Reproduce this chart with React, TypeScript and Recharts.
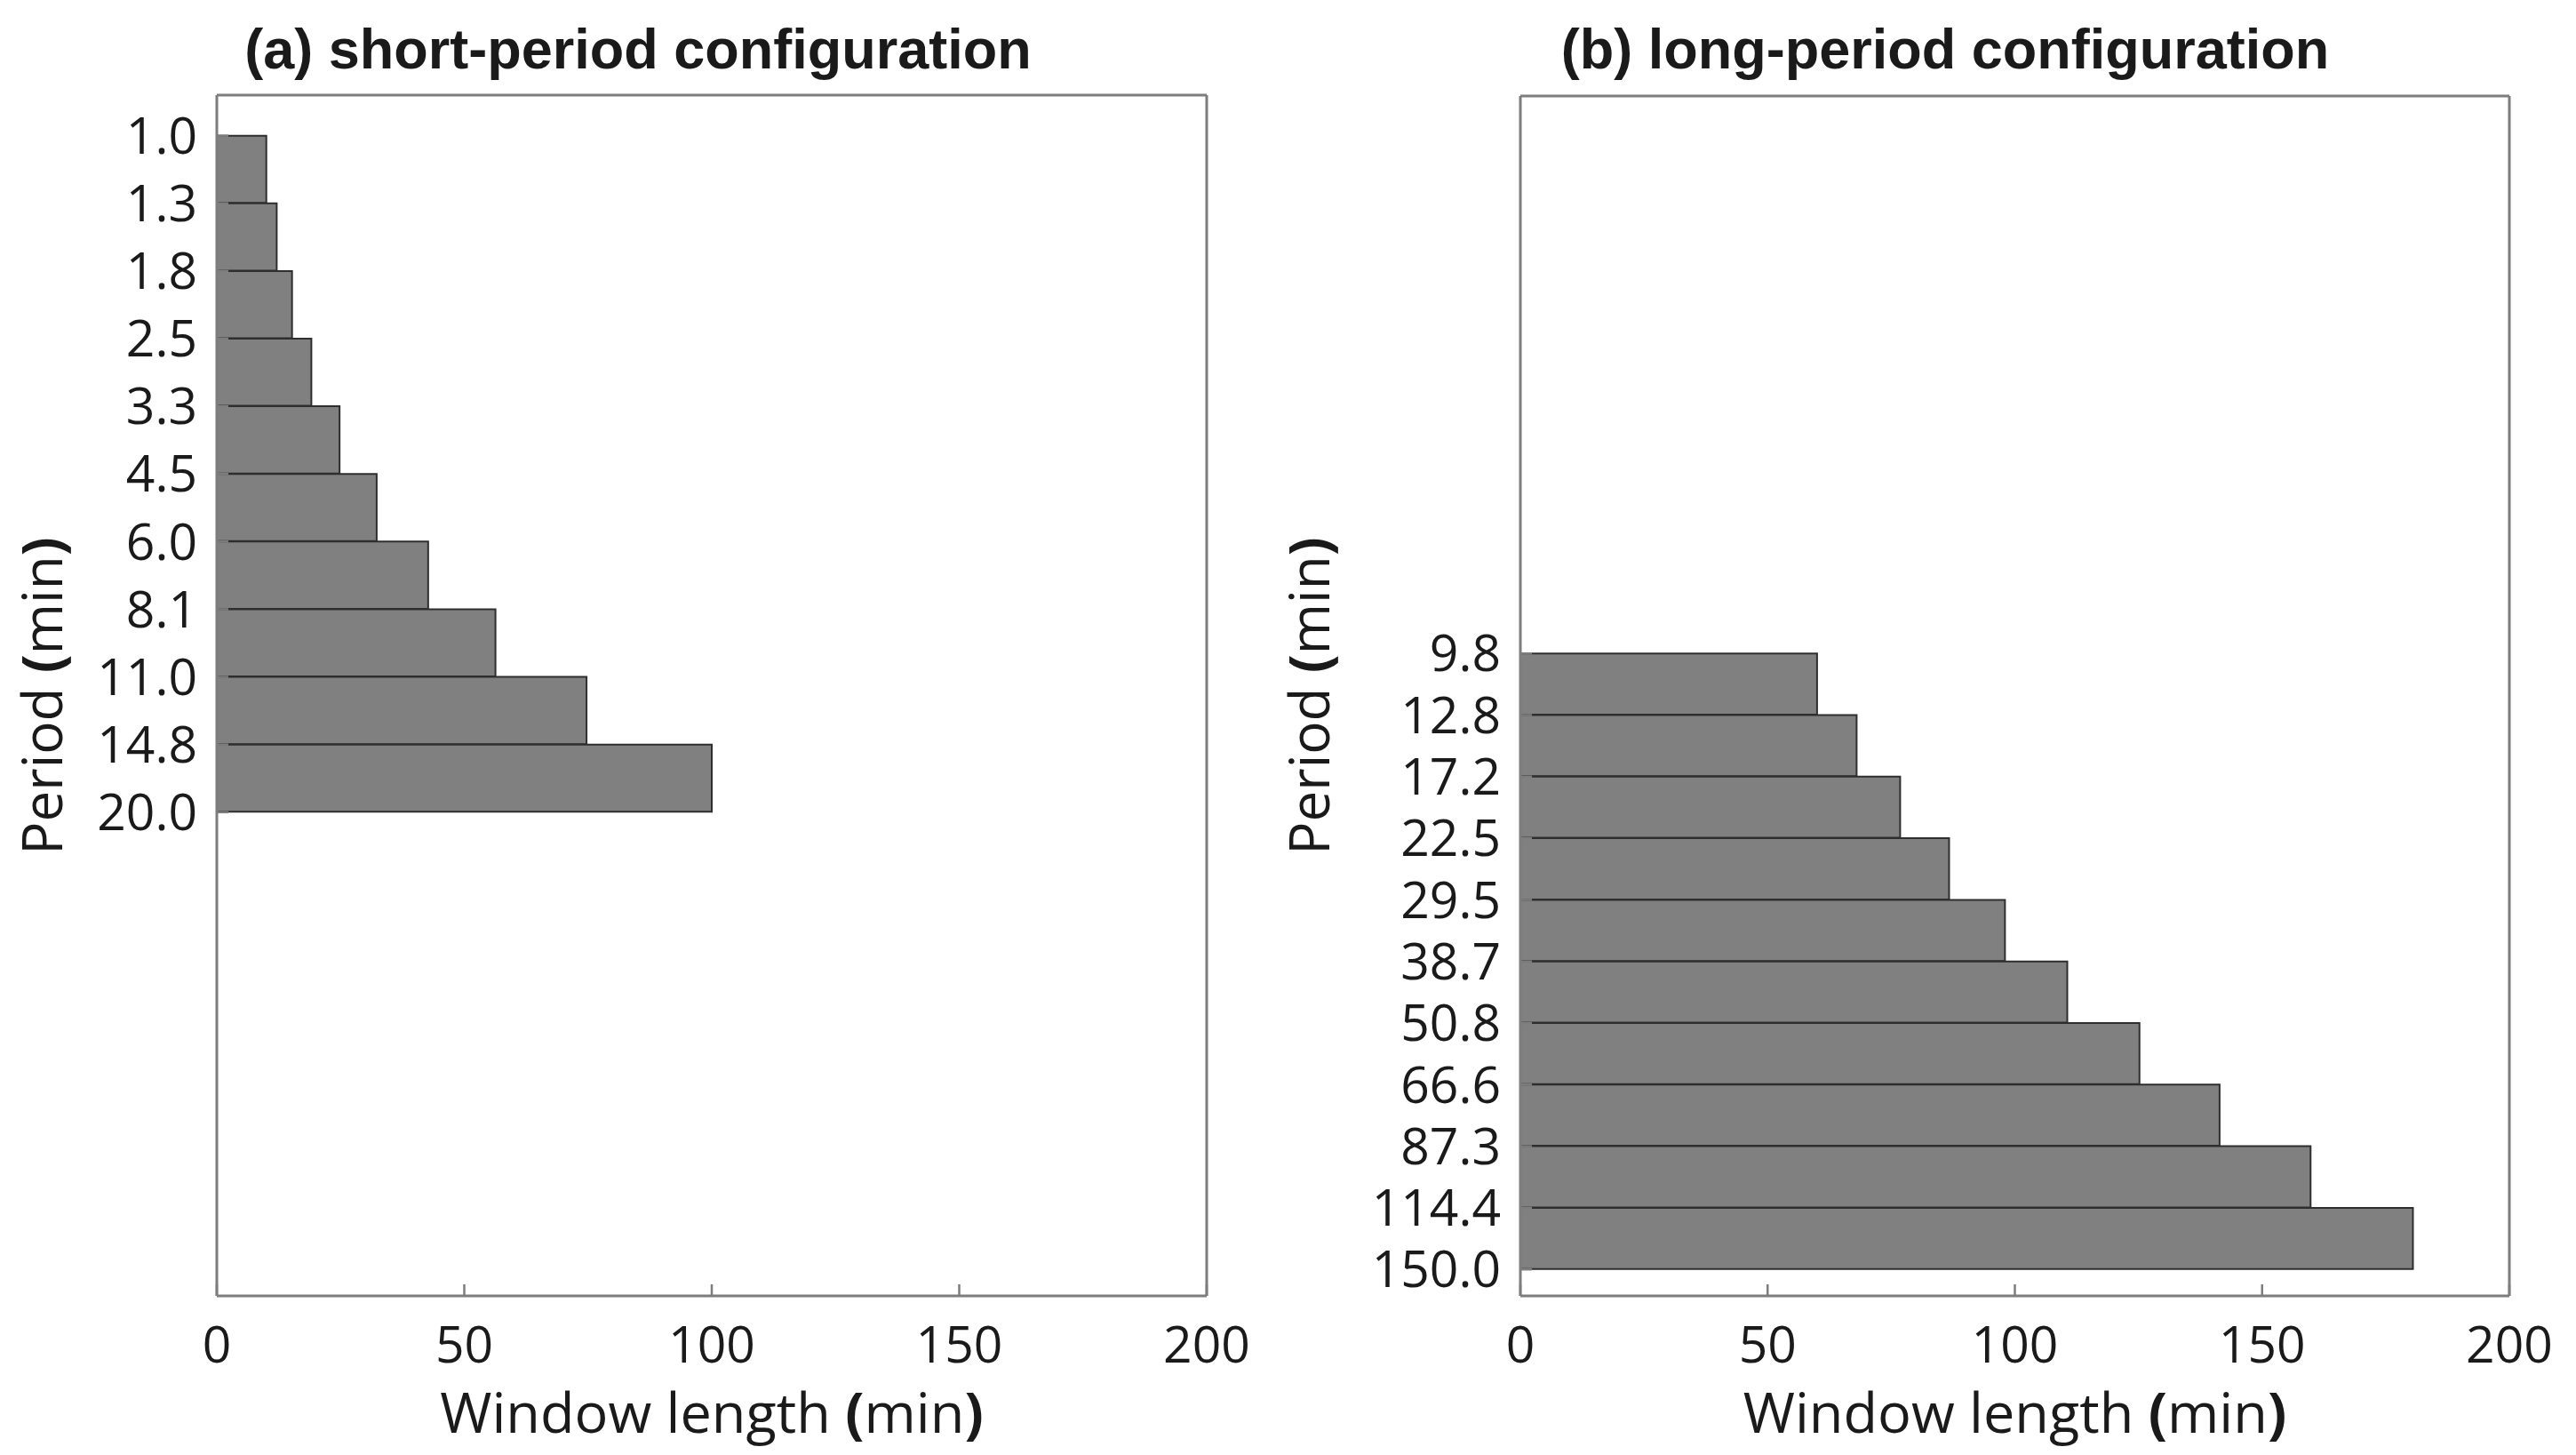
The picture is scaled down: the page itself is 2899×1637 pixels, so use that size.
import React from "react";
import { BarChart, Bar, XAxis, YAxis } from "recharts";

const W = 2899;
const H = 1637;

// (a) short-period configuration: band edges (min) and window length per band
const periodsShort = ["1.0", "1.3", "1.8", "2.5", "3.3", "4.5", "6.0", "8.1", "11.0", "14.8", "20.0"];
const windowShort = [10, 12.1, 15.2, 19.1, 24.8, 32.3, 42.7, 56.3, 74.7, 100];

// (b) long-period configuration
const periodsLong = ["9.8", "12.8", "17.2", "22.5", "29.5", "38.7", "50.8", "66.6", "87.3", "114.4", "150.0"];
const windowLong = [60, 68, 76.8, 86.7, 98, 110.6, 125.2, 141.4, 159.8, 180.5];

const xTicks = [0, 50, 100, 150, 200];

const frame = "#7d7d7d";
const ink = "#1a1a1a";
const font = "'Open Sans', 'DejaVu Sans', sans-serif";

type Box = { left: number; right: number; top: number; bottom: number };

type PanelProps = {
  title: string;
  periods: string[];
  windows: number[];
  yDomain: [number, number];
  box: Box;
  titleX: number;
  yLabelX: number;
};

function Panel({ title, periods, windows, yDomain, box, titleX, yLabelX }: PanelProps) {
  const data = windows.map((w, i) => ({ band: i + 0.5, window: w }));
  const yTicks = periods.map((_, i) => i);
  const plotH = box.bottom - box.top;
  const barSize = plotH / (yDomain[1] - yDomain[0]) - 0.5;
  const yAxisW = 240;
  const xAxisH = 60;
  const cx = (box.left + box.right) / 2;
  const cy = (box.top + box.bottom) / 2;

  const axisLine = { stroke: frame, strokeWidth: 3 };
  const tickLine = { stroke: frame, strokeWidth: 2.5 };
  const tickText = { fontSize: 57, fill: ink, fontFamily: font };

  return (
    <>
      <div style={{ position: "absolute", left: 0, top: 0 }}>
        <BarChart
          width={W}
          height={H}
          layout="vertical"
          data={data}
          margin={{
            top: box.top - 1,
            left: box.left - yAxisW,
            right: W - box.right - 1,
            bottom: H - box.bottom - xAxisH,
          }}
        >
          <XAxis
            xAxisId="bottom"
            type="number"
            domain={[0, 200]}
            ticks={xTicks}
            allowDataOverflow
            orientation="bottom"
            height={xAxisH}
            axisLine={axisLine}
            tickLine={tickLine}
            tickSize={-13}
            tickMargin={48}
            interval={0}
            tick={tickText}
          />
          <XAxis
            xAxisId="top"
            type="number"
            domain={[0, 200]}
            ticks={xTicks}
            allowDataOverflow
            orientation="top"
            height={1}
            axisLine={axisLine}
            tickLine={tickLine}
            tickSize={-13}
            interval={0}
            tick={false}
          />
          <YAxis
            yAxisId="left"
            type="number"
            dataKey="band"
            domain={yDomain}
            ticks={yTicks}
            allowDataOverflow
            width={yAxisW}
            axisLine={axisLine}
            tickLine={tickLine}
            tickSize={-13}
            tickMargin={35}
            interval={0}
            tickFormatter={(v: number) => periods[v] ?? ""}
            tick={tickText}
          />
          <YAxis
            yAxisId="right"
            type="number"
            orientation="right"
            domain={yDomain}
            ticks={yTicks}
            allowDataOverflow
            width={1}
            axisLine={axisLine}
            tickLine={tickLine}
            tickSize={-13}
            interval={0}
            tick={false}
          />
          <Bar
            xAxisId="bottom"
            yAxisId="left"
            dataKey="window"
            fill="#808080"
            stroke="#2e2e2e"
            strokeWidth={2}
            barSize={barSize}
            isAnimationActive={false}
          />
        </BarChart>
      </div>
      <div
        style={{
          position: "absolute",
          left: titleX,
          top: 55,
          transform: "translate(-50%, -50%)",
          whiteSpace: "nowrap",
          fontFamily: "'Liberation Sans', Arial, sans-serif",
          fontWeight: "bold",
          fontSize: 63,
          color: ink,
        }}
      >
        {title}
      </div>
      <div
        style={{
          position: "absolute",
          left: cx,
          top: 1587,
          transform: "translate(-50%, -50%)",
          whiteSpace: "nowrap",
          fontFamily: font,
          fontSize: 63,
          color: ink,
        }}
      >
        Window length <b>(</b>min<b>)</b>
      </div>
      <div
        style={{
          position: "absolute",
          left: yLabelX,
          top: cy,
          transform: "translate(-50%, -50%) rotate(-90deg)",
          whiteSpace: "nowrap",
          fontFamily: font,
          fontSize: 62,
          color: ink,
        }}
      >
        Period <b>(</b>min<b>)</b>
      </div>
    </>
  );
}

export default function App() {
  return (
    <div
      style={{
        position: "absolute",
        left: 0,
        top: 0,
        width: W,
        height: H,
        background: "#ffffff",
        overflow: "hidden",
      }}
    >
      <Panel
        title="(a) short-period configuration"
        periods={periodsShort}
        windows={windowShort}
        yDomain={[-0.6, 17.15]}
        box={{ left: 244, right: 1358, top: 107, bottom: 1458 }}
        titleX={718}
        yLabelX={46}
      />
      <Panel
        title="(b) long-period configuration"
        periods={periodsLong}
        windows={windowLong}
        yDomain={[-9.05, 10.43]}
        box={{ left: 1711, right: 2824, top: 108, bottom: 1458 }}
        titleX={2189}
        yLabelX={1472}
      />
    </div>
  );
}
